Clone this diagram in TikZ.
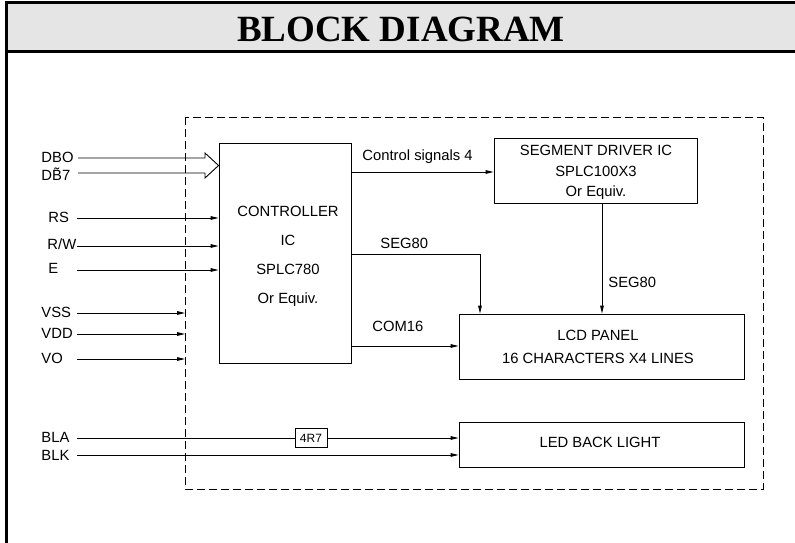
\documentclass[tikz,border=0pt]{standalone}
\usepackage{fontspec}
\setmainfont{Liberation Sans}
\newfontfamily\titlefont{Liberation Serif}
\usetikzlibrary{arrows.meta}

\begin{document}
\begin{tikzpicture}[x=1pt,y=-1pt,line width=0.9pt,
		lbl/.style={font=\fontsize{14.8}{17}\selectfont, inner sep=0pt},
		blk/.style={draw, line width=0.9pt, inner sep=0pt},
		sig/.style={-{Triangle[length=8pt,width=3.6pt]}}]
			
			\useasboundingbox (0,0) rectangle (795,543);
			
			% header
			\fill[gray!20] (6,3) rectangle (800,52);
			\draw[line width=3pt] (800,3) -- (6,3) -- (6,546);
			\draw[line width=3pt] (6,52) -- (800,52);
			\node[font=\titlefont\bfseries\fontsize{37}{40}\selectfont, inner sep=0pt] (title) at (401,29) {BLOCK DIAGRAM};
			
			% module outline
			\draw[dash pattern=on 8pt off 4pt] (185,117) rectangle (763,489);
			
			% blocks
			\node[blk, minimum width=132pt, minimum height=220pt] (ctrl) at (285,253) {};
			\node[blk, minimum width=203pt, minimum height=65pt] (seg) at (595.5,170.5) {};
			\node[blk, minimum width=285pt, minimum height=65pt] (lcd) at (601.5,346.5) {};
			\node[blk, minimum width=285pt, minimum height=45pt] (led) at (601.5,444.5) {};
			\node[blk, minimum width=32pt, minimum height=19pt, fill=white, font=\fontsize{12}{14}\selectfont] (res) at (311,438) {4R7};
			
			\node[lbl, align=center, font=\fontsize{14.8}{29}\selectfont] (ctrltxt) at (288,256) {CONTROLLER\\IC\\SPLC780\\Or Equiv.};
			\node[lbl, align=center, font=\fontsize{14.8}{20.5}\selectfont] (segtxt) at (596,172.5) {SEGMENT DRIVER IC\\SPLC100X3\\Or Equiv.};
			\node[lbl, align=center, font=\fontsize{14.8}{23}\selectfont] (lcdtxt) at (598,346.5) {LCD PANEL\\16 CHARACTERS X4 LINES};
			\node[lbl] (ledtxt) at (600,442) {LED BACK LIGHT};
			
			% pin labels
			\node[lbl, anchor=west] (dbo) at (41,157) {DBO};
			\node[lbl, anchor=west] (db7) at (41,174) {D\~{B}7};
			\node[lbl, anchor=west] (rs) at (48,217) {RS};
			\node[lbl, anchor=west] (rw) at (47,244) {R/W};
			\node[lbl, anchor=west] (e) at (48,268) {E};
			\node[lbl, anchor=west] (vss) at (41,312) {VSS};
			\node[lbl, anchor=west] (vdd) at (41,333) {VDD};
			\node[lbl, anchor=west] (vo) at (41,358) {VO};
			\node[lbl, anchor=west] (bla) at (41,437) {BLA};
			\node[lbl, anchor=west] (blk) at (41,455) {BLK};
			
			\coordinate (dbo-s) at (78,158);
\coordinate (db7-s) at (78,173);
\coordinate (rs-s) at (77,218);
\coordinate (rw-s) at (77,246);
\coordinate (e-s) at (77,270);
\coordinate (vss-s) at (77,313);
\coordinate (vdd-s) at (77,334);
\coordinate (vo-s) at (77,359);
\coordinate (bla-s) at (77,438);
\coordinate (blk-s) at (77,455);
			\coordinate (vss-e) at (185,313);
\coordinate (vdd-e) at (185,334);
\coordinate (vo-e) at (185,359);
			\coordinate (dbtip) at (ctrl.west |- 0,165.5);
			\coordinate (segturn) at (480,254);
			\coordinate (segdrop) at (602,0);
			
			% data bus
			\draw[line join=miter] (dbo-s) -- (205,158) -- (205,153) -- (dbtip) -- (205,178) -- (205,173) -- (db7-s);
			
			% control and power pins
			\draw[sig] (rs-s) -- (ctrl.west |- rs-s);
\draw[sig] (rw-s) -- (ctrl.west |- rw-s);
\draw[sig] (e-s) -- (ctrl.west |- e-s);
\draw[sig] (vss-s) -- (vss-e);
\draw[sig] (vdd-s) -- (vdd-e);
\draw[sig] (vo-s) -- (vo-e);
			
			% internal signals
			\draw[sig] (ctrl.east |- 0,172) -- (seg.west |- 0,172);
			\node[lbl, anchor=west] (ctl) at (362,157) {Control signals 4};
			\draw[sig] (ctrl.east |- segturn) -| (lcd.north -| segturn);
			\node[lbl, anchor=west] (seg80a) at (380,243) {SEG80};
			\draw[sig] (ctrl.east |- 0,346) -- (lcd.west |- 0,346);
			\node[lbl, anchor=west] (com16) at (372,326) {COM16};
			\draw[sig] (seg.south -| segdrop) -- (lcd.north -| segdrop);
			\node[lbl, anchor=west] (seg80b) at (608,282) {SEG80};
			
			% backlight
			\draw (bla-s) -- (res);
			\draw[sig] (res) -- (led.west |- res);
			\draw[sig] (blk-s) -- (led.west |- blk-s);
			
		\end{tikzpicture}
\end{document}
